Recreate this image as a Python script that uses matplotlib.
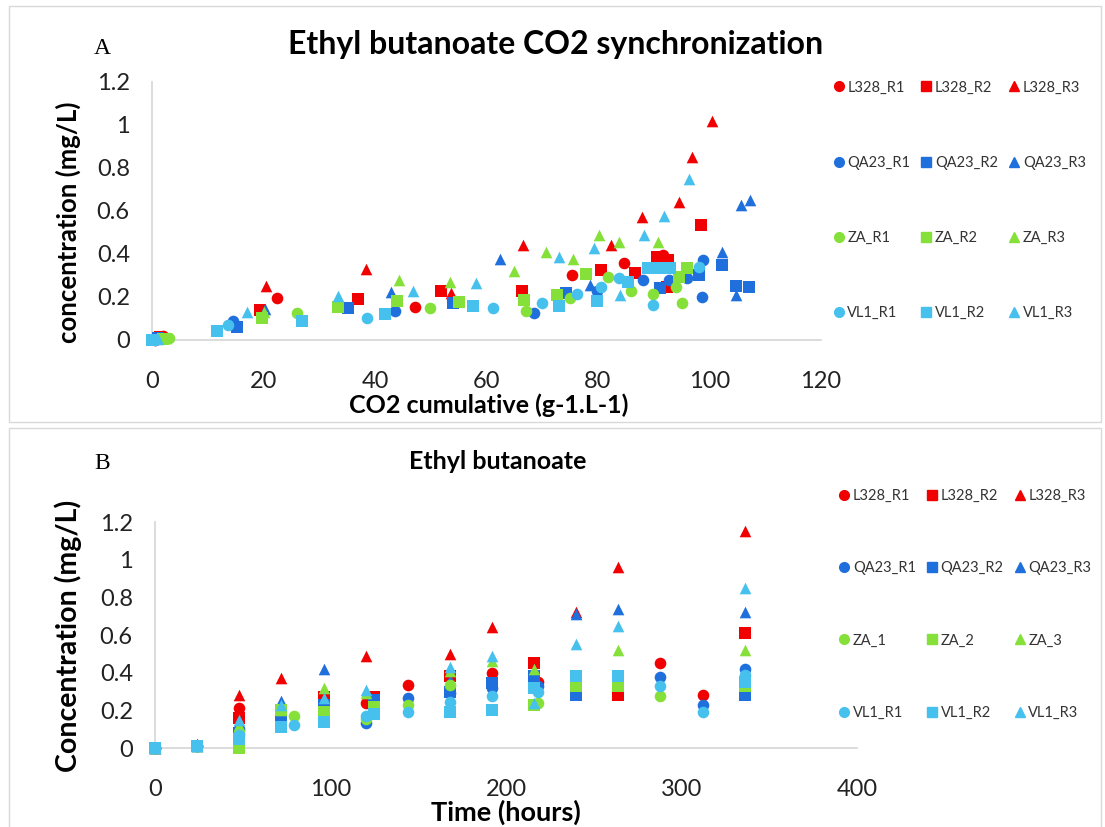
import matplotlib
matplotlib.use('Agg')
import matplotlib.pyplot as plt
from matplotlib.lines import Line2D
from matplotlib.patches import Rectangle

plt.rcParams['font.family'] = ['Lato', 'DejaVu Sans']

# ---- series names / styles ----
names_a = ['L328_R1', 'L328_R2', 'L328_R3', 'QA23_R1', 'QA23_R2', 'QA23_R3',
           'ZA_R1', 'ZA_R2', 'ZA_R3', 'VL1_R1', 'VL1_R2', 'VL1_R3']
names_b = ['L328_R1', 'L328_R2', 'L328_R3', 'QA23_R1', 'QA23_R2', 'QA23_R3',
           'ZA_1', 'ZA_2', 'ZA_3', 'VL1_R1', 'VL1_R2', 'VL1_R3']
red = '#f00000'
blue = '#1f6fdc'
green = '#86e03a'
lblue = '#46c1ee'
colors = [red]*3 + [blue]*3 + [green]*3 + [lblue]*3
markers = ['o', 's', '^'] * 4

# ---- panel A : CO2 cumulative vs concentration ----
co2_a = [
    [0.5, 2, 22.4, 47.1, 75.3, 84.6, 91.6],
    [1.5, 19.4, 36.9, 51.8, 66.3, 80.6, 86.6, 90.5, 92.5, 92.3, 98.4],
    [2, 20.4, 38.4, 53.6, 66.5, 82.4, 87.8, 94.5, 96.9, 100.5],
    [1, 14.5, 43.5, 68.6, 79.9, 88, 92.8, 96, 98.9, 98.6],
    [1, 15.2, 35.1, 54, 74.2, 91.2, 98.2, 102.3, 104.7, 107],
    [1, 20.3, 42.8, 62.4, 78.5, 102.2, 104.8, 105.7, 107.2],
    [3, 26, 49.8, 67, 75, 81.7, 86, 89.8, 93.9, 95],
    [2, 19.7, 33.3, 43.9, 55, 66.7, 72.6, 77.9, 94.6, 95.9],
    [2.5, 20, 44.3, 53.4, 65, 70.6, 75.6, 80.1, 83.7, 90.7],
    [0.5, 13.6, 38.5, 61.1, 70, 76.3, 80.5, 83.7, 89.8, 98.2],
    [0, 11.6, 26.9, 41.8, 57.5, 73, 79.9, 85.3, 89, 91, 93],
    [1, 17, 33.3, 46.8, 58.2, 73, 79.2, 84, 88.2, 91.8, 96.4],
]
conc_a = [
    [0, 0.02, 0.195, 0.155, 0.30, 0.36, 0.395],
    [0.015, 0.14, 0.19, 0.23, 0.23, 0.325, 0.31, 0.385, 0.37, 0.245, 0.535],
    [0.02, 0.25, 0.33, 0.22, 0.44, 0.44, 0.57, 0.64, 0.85, 1.02],
    [0.01, 0.09, 0.135, 0.125, 0.23, 0.28, 0.28, 0.29, 0.37, 0.20],
    [0.01, 0.06, 0.15, 0.17, 0.22, 0.24, 0.30, 0.35, 0.25, 0.245],
    [0.01, 0.145, 0.225, 0.375, 0.255, 0.41, 0.21, 0.63, 0.65],
    [0.01, 0.125, 0.15, 0.135, 0.195, 0.295, 0.23, 0.215, 0.245, 0.17],
    [0.005, 0.10, 0.155, 0.18, 0.175, 0.185, 0.21, 0.305, 0.295, 0.335],
    [0.01, 0.13, 0.28, 0.27, 0.32, 0.41, 0.375, 0.49, 0.455, 0.455],
    [0, 0.07, 0.10, 0.15, 0.17, 0.215, 0.245, 0.29, 0.165, 0.34],
    [0, 0.04, 0.09, 0.12, 0.16, 0.16, 0.18, 0.27, 0.335, 0.335, 0.335],
    [0.005, 0.13, 0.205, 0.23, 0.265, 0.385, 0.43, 0.21, 0.49, 0.575, 0.75],
]

# ---- panel B : time vs concentration ----
time_b = [
    [0, 24, 48, 120, 144, 192, 218, 288, 312],
    [0, 24, 48, 72, 96, 125, 168, 216, 240, 264, 336],
    [0, 24, 48, 72, 120, 168, 192, 240, 264, 336],
    [0, 24, 48, 120, 144, 168, 192, 218, 288, 312, 336],
    [0, 24, 48, 72, 96, 125, 168, 192, 216, 240, 336],
    [0, 24, 48, 72, 96, 168, 240, 264, 336],
    [0, 24, 48, 79, 120, 144, 168, 218, 288],
    [0, 24, 48, 72, 96, 125, 216, 240, 264, 336],
    [0, 24, 48, 72, 96, 120, 168, 192, 216, 264, 336],
    [0, 24, 48, 79, 120, 144, 168, 192, 218, 288, 312, 336],
    [0, 24, 48, 72, 96, 125, 168, 192, 216, 240, 264, 336],
    [0, 24, 48, 72, 96, 120, 168, 192, 216, 240, 264, 336],
]
conc_b = [
    [0, 0.01, 0.21, 0.24, 0.335, 0.40, 0.35, 0.45, 0.28],
    [0, 0.01, 0.16, 0.19, 0.27, 0.27, 0.38, 0.45, 0.38, 0.28, 0.61],
    [0, 0.02, 0.28, 0.37, 0.49, 0.50, 0.64, 0.72, 0.96, 1.15],
    [0, 0.01, 0.10, 0.135, 0.265, 0.29, 0.32, 0.33, 0.375, 0.23, 0.42],
    [0, 0.01, 0.08, 0.17, 0.23, 0.255, 0.30, 0.345, 0.385, 0.28, 0.28],
    [0, 0.01, 0.13, 0.25, 0.42, 0.36, 0.71, 0.74, 0.72],
    [0, 0.01, 0.08, 0.17, 0.155, 0.23, 0.335, 0.24, 0.275],
    [0, 0.01, 0.0, 0.20, 0.19, 0.22, 0.23, 0.33, 0.33, 0.33],
    [0, 0.01, 0.12, 0.20, 0.32, 0.29, 0.41, 0.46, 0.42, 0.52, 0.52],
    [0, 0.01, 0.07, 0.12, 0.17, 0.19, 0.245, 0.275, 0.30, 0.33, 0.19, 0.39],
    [0, 0.01, 0.05, 0.11, 0.14, 0.18, 0.19, 0.20, 0.32, 0.38, 0.38, 0.35],
    [0, 0.01, 0.15, 0.23, 0.265, 0.31, 0.43, 0.49, 0.24, 0.55, 0.65, 0.85],
]

fig = plt.figure(figsize=(11.05, 8.27), dpi=100)

# light grey chart-area frames
fig.patches.append(Rectangle((0.008, 0.49), 0.988, 0.503, transform=fig.transFigure,
                             fill=False, edgecolor='#d9d9d9', lw=1))
fig.patches.append(Rectangle((0.008, -0.01), 0.988, 0.492, transform=fig.transFigure,
                             fill=False, edgecolor='#d9d9d9', lw=1))


def style_axes(ax, xmax, xstep):
    ax.set_xlim(0, xmax)
    ax.set_ylim(0, 1.2)
    ax.set_xticks(range(0, xmax + 1, xstep))
    ax.set_yticks([0, 0.2, 0.4, 0.6, 0.8, 1.0, 1.2])
    ax.set_yticklabels(['0', '0.2', '0.4', '0.6', '0.8', '1', '1.2'])
    for s in ['top', 'right']:
        ax.spines[s].set_visible(False)
    for s in ['left', 'bottom']:
        ax.spines[s].set_color('#d9d9d9')
        ax.spines[s].set_linewidth(1.3)
    ax.tick_params(length=0, labelsize=17, colors='#222222')
    ax.tick_params(axis='x', pad=22)
    ax.tick_params(axis='y', pad=16)
    ax.margins(0)


def draw(ax, xs, ys):
    for i in range(12):
        ax.scatter(xs[i], ys[i], marker=markers[i], color=colors[i],
                   s=70 if markers[i] != 's' else 80, linewidths=0,
                   zorder=3, clip_on=False)


# panel A
axA = fig.add_axes([0.1376, 0.5889, 0.6054, 0.312])
draw(axA, co2_a, conc_a)
style_axes(axA, 120, 20)
fig.text(0.503, 0.9456, 'Ethyl butanoate CO2 synchronization', fontsize=23,
         fontweight='bold', ha='center', va='center')
fig.text(0.0615, 0.7316, 'concentration (mg/L)', fontsize=18.5, fontweight='bold',
         rotation=90, ha='center', va='center')
fig.text(0.4425, 0.5103, 'CO2 cumulative (g-1.L-1)', fontsize=18, fontweight='bold',
         ha='center', va='center')
fig.text(0.085, 0.935, 'A', fontsize=17, family='Liberation Serif')

# panel B
axB = fig.add_axes([0.1403, 0.0955, 0.6353, 0.2733])
draw(axB, time_b, conc_b)
style_axes(axB, 400, 100)
fig.text(0.45, 0.4414, 'Ethyl butanoate', fontsize=18, fontweight='bold',
         ha='center', va='center')
fig.text(0.0615, 0.231, 'Concentration (mg/L)', fontsize=20.5, fontweight='bold',
         rotation=90, ha='center', va='center')
fig.text(0.458, 0.0181, 'Time (hours)', fontsize=19.5, fontweight='bold',
         ha='center', va='center')
fig.text(0.085, 0.433, 'B', fontsize=17, family='Liberation Serif')


def legend(names, anchor, spacing):
    order = [0, 3, 6, 9, 1, 4, 7, 10, 2, 5, 8, 11]
    handles = [Line2D([], [], marker=markers[i], color=colors[i], linestyle='none',
                      markersize=7) for i in order]
    labels = [names[i] for i in order]
    fig.legend(handles, labels, ncol=3, loc='upper left', bbox_to_anchor=anchor,
               frameon=False, fontsize=10.5, labelspacing=spacing, columnspacing=0.7,
               handlelength=0.8, handletextpad=0.2, labelcolor='#333333')


legend(names_a, (0.7417, 0.9186), 4.2)
legend(names_b, (0.7467, 0.4247), 4.0)

fig.savefig('out.png', dpi=100)
